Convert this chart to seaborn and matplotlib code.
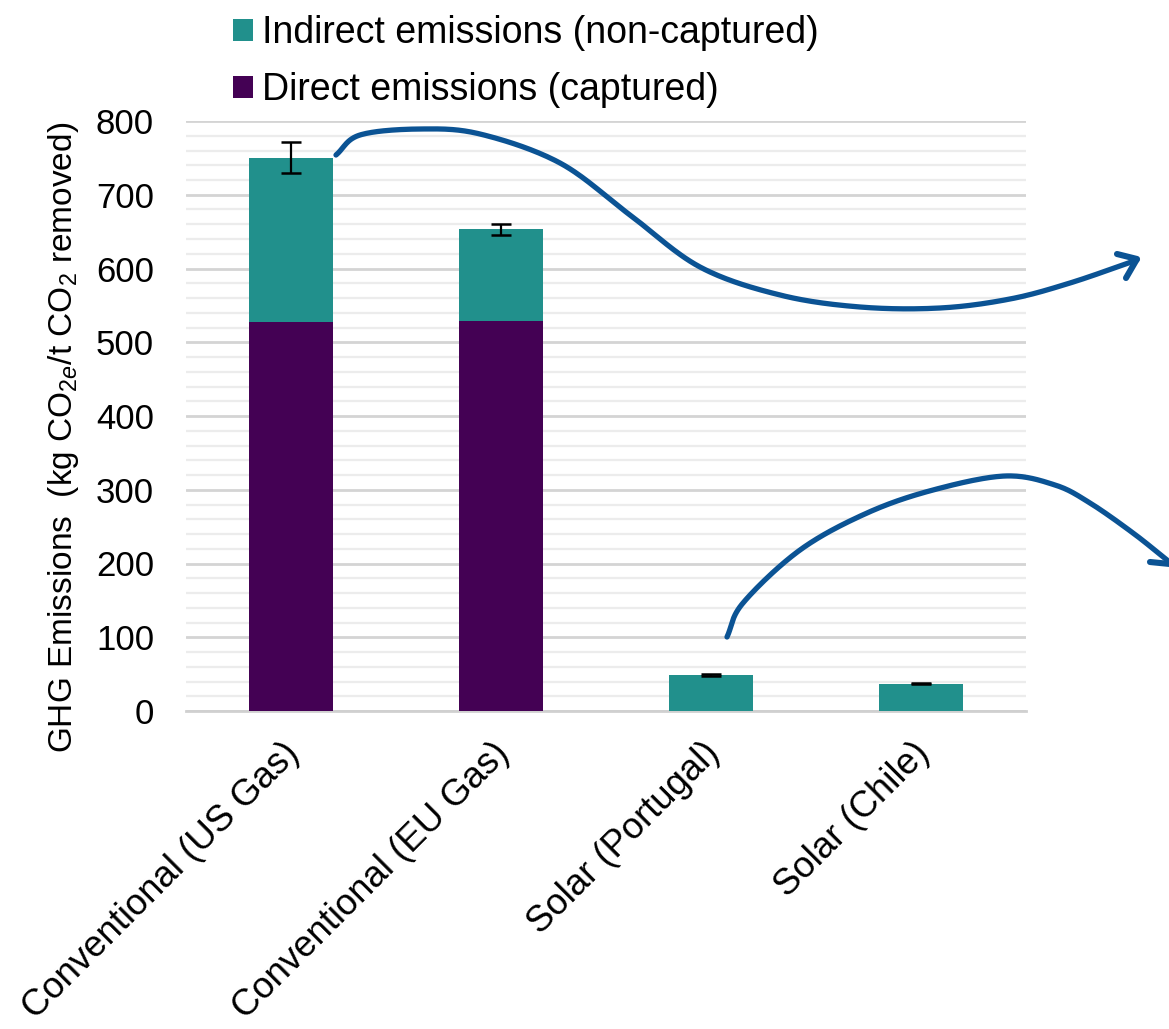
import numpy as np
import pandas as pd
import matplotlib
matplotlib.use("Agg")
import matplotlib.pyplot as plt
import matplotlib.transforms as mtransforms
from matplotlib.patches import Patch
from matplotlib.lines import Line2D
import seaborn as sns

# Emissions per tonne of CO2 removed (kg CO2e)
categories = ["Conventional (US Gas)", "Conventional (EU Gas)", "Solar (Portugal)", "Solar (Chile)"]
direct = [527, 529, 0, 0]          # captured
indirect = [223, 124, 49, 37]      # non-captured
total_err = [21, 8, 1.5, 1]

TEAL = "#21908c"
PURPLE = "#440154"
ARROW = "#0b5394"

sns.set_theme(style="white")
plt.rcParams["font.family"] = ["Liberation Sans", "DejaVu Sans"]
plt.rcParams["mathtext.fontset"] = "custom"
plt.rcParams["mathtext.rm"] = "Liberation Sans"
plt.rcParams["mathtext.it"] = "Liberation Sans:italic"
plt.rcParams["text.color"] = "black"

df = pd.DataFrame({
    "category": categories,
    "direct": direct,
    "indirect": indirect,
})
df["total"] = df["direct"] + df["indirect"]

W, H = 1169, 1029
fig = plt.figure(figsize=(W / 100, H / 100), dpi=100)
ax = fig.add_axes([186 / W, 1 - 711 / H, 840 / W, 590 / H])

sns.barplot(data=df, x="category", y="total", color=TEAL, width=0.4,
            saturation=1, ax=ax, zorder=3)
sns.barplot(data=df, x="category", y="direct", color=PURPLE, width=0.4,
            saturation=1, ax=ax, zorder=4)
for p in ax.patches:
    p.set_edgecolor("none")

ax.errorbar(np.arange(len(categories)), df["total"], yerr=total_err, fmt="none",
            ecolor="black", elinewidth=1.6, capsize=7.5, capthick=1.8, zorder=5)

ax.set_ylim(0, 800)
ax.set_xlim(-0.5, len(categories) - 0.5)
ax.set_yticks(np.arange(0, 801, 100))
ax.set_yticks(np.arange(0, 801, 20), minor=True)
ax.grid(axis="y", which="major", color="#d4d4d4", linewidth=2.0, zorder=0)
ax.grid(axis="y", which="minor", color="#ececec", linewidth=1.6, zorder=0)
ax.set_axisbelow(True)
for s in ["top", "right", "left"]:
    ax.spines[s].set_visible(False)
ax.spines["bottom"].set_color("#d0d0d0")
ax.spines["bottom"].set_linewidth(2.0)

ax.tick_params(axis="y", which="both", length=0, pad=23, labelsize=25, labelcolor="black")
ax.tick_params(axis="x", length=0, pad=14, labelsize=26.3, labelcolor="black")
ax.set_xticks(range(len(categories)))
ax.set_xticklabels(categories, rotation=45, ha="right", rotation_mode="anchor")
shift = mtransforms.ScaledTranslation(-9 / 100, -5 / 100, fig.dpi_scale_trans)
for lab in ax.get_xticklabels():
    lab.set_transform(lab.get_transform() + shift)
ax.set_xlabel("")
ax.set_ylabel(r"GHG Emissions  (kg CO$_{2e}$/t CO$_2$ removed)", fontsize=24, color="black")
ax.yaxis.set_label_coords(-0.125, 0.464)

handles = [Patch(facecolor=TEAL, edgecolor="none", label="Indirect emissions (non-captured)"),
           Patch(facecolor=PURPLE, edgecolor="none", label="Direct emissions (captured)")]
fig.legend(handles=handles, loc="upper left", bbox_to_anchor=(218 / W, 1 - 0 / H),
           frameon=False, fontsize=27, handlelength=0.52, handleheight=0.52,
           handletextpad=0.25, labelspacing=0.56, borderaxespad=0, labelcolor="black")


def catmull_rom(pts, n=30):
    pts = np.asarray(pts, dtype=float)
    ext = np.vstack([pts[0] * 2 - pts[1], pts, pts[-1] * 2 - pts[-2]])
    out = []
    for i in range(1, len(ext) - 2):
        p0, p1, p2, p3 = ext[i - 1], ext[i], ext[i + 1], ext[i + 2]
        t = np.linspace(0, 1, n, endpoint=False)[:, None]
        seg = 0.5 * ((2 * p1) + (-p0 + p2) * t + (2 * p0 - 5 * p1 + 4 * p2 - p3) * t ** 2
                     + (-p0 + 3 * p1 - 3 * p2 + p3) * t ** 3)
        out.append(seg)
    out.append(pts[-1:])
    return np.vstack(out)


def draw_curve(pts, head):
    c = catmull_rom(pts)
    fig.add_artist(Line2D(c[:, 0] / W, 1 - c[:, 1] / H, color=ARROW, linewidth=3.8,
                          solid_capstyle="round", solid_joinstyle="round"))
    h = np.asarray(head, dtype=float)
    fig.add_artist(Line2D(h[:, 0] / W, 1 - h[:, 1] / H, color=ARROW, linewidth=4.4,
                          solid_capstyle="round", solid_joinstyle="round"))


# curved arrow from the US gas bar toward the right margin
draw_curve([(336, 155), (360, 135), (420, 129), (480, 134), (560, 163), (630, 215),
            (700, 267), (780, 295), (860, 307), (940, 308), (1010, 299), (1070, 283),
            (1137, 260)],
           [(1117, 254), (1137, 259), (1126, 278)])

# curved arrow from the Portugal bar toward the right margin
draw_curve([(727, 637), (743, 603), (800, 550), (867, 513), (933, 490), (1005, 476),
            (1055, 485), (1090, 503), (1133, 533), (1167, 560)],
           [(1150, 562), (1170, 564), (1172, 540)])

fig.savefig("out.png", dpi=100, facecolor="white")
